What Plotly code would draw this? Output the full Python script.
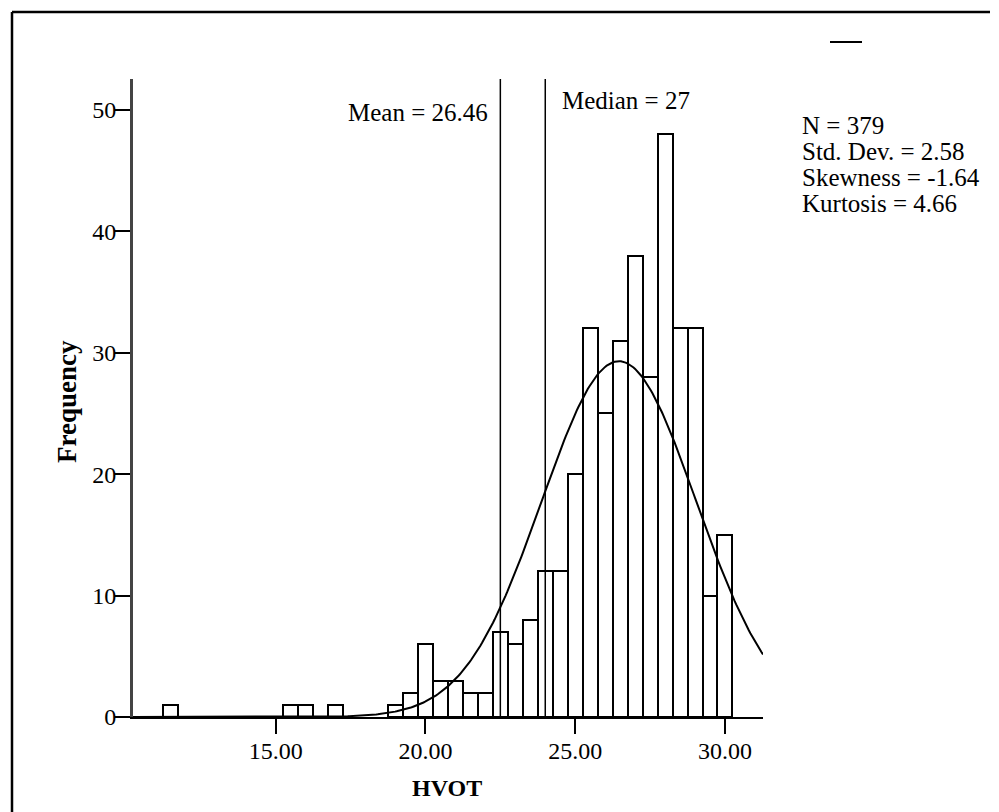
import plotly.graph_objects as go
import numpy as np

# ---- data ----
bin_centers = [11.5, 15.5, 16.0, 17.0,
               19.0, 19.5, 20.0, 20.5, 21.0, 21.5, 22.0, 22.5, 23.0, 23.5,
               24.0, 24.5, 25.0, 25.5, 26.0, 26.5, 27.0, 27.5, 28.0, 28.5,
               29.0, 29.5, 30.0]
frequencies = [1, 1, 1, 1,
               1, 2, 6, 3, 3, 2, 2, 7, 6, 8,
               12, 12, 20, 32, 25, 31, 38, 28, 48, 32,
               32, 10, 15]
bin_width = 0.5
n_total = 379
mean_val = 26.46
sd_val = 2.58
mean_line_x = 22.5
median_line_x = 24.0
x_ticks = [15, 20, 25, 30]
y_ticks = [0, 10, 20, 30, 40, 50]
stats_lines = ["N = 379", "Std. Dev. = 2.58", "Skewness = -1.64", "Kurtosis = 4.66"]

X_RANGE = [10.235, 31.27]
Y_RANGE = [0, 52.55]

W, H = 999, 812
L, R, T, B = 133, 236, 79, 95
PW, PH = W - L - R, H - T - B


def px(x):
    return (x - L) / PW


def py(y):
    return (H - B - y) / PH


FONT = "Liberation Serif, Times New Roman, serif"
FS = 23
FS_TXT = 25

fig = go.Figure()

fig.add_trace(go.Bar(
    x=bin_centers, y=frequencies, width=bin_width,
    marker=dict(color="white", line=dict(color="black", width=2)),
    showlegend=False, hoverinfo="x+y",
))

# fitted normal curve (SPSS-style, from mean / SD / N)
xs = np.linspace(X_RANGE[0], X_RANGE[1], 400)
ys = n_total * bin_width / (sd_val * np.sqrt(2 * np.pi)) * np.exp(-0.5 * ((xs - mean_val) / sd_val) ** 2)
fig.add_trace(go.Scatter(x=xs, y=ys, mode="lines", line=dict(color="black", width=2),
                         showlegend=False, hoverinfo="skip"))

# reference lines
for lx in (mean_line_x, median_line_x):
    fig.add_shape(type="line", xref="x", yref="y", x0=lx, x1=lx, y0=0, y1=Y_RANGE[1],
                  line=dict(color="black", width=1.5))

annotations = [
    dict(text="Mean = 26.46", x=px(490), y=py(112), xanchor="right", yanchor="middle",
         size=FS_TXT),
    dict(text="Median = 27", x=px(560), y=py(100), xanchor="left", yanchor="middle",
         size=FS_TXT),
    dict(text="<b>HVOT</b>", x=px(447), y=py(788), xanchor="center", yanchor="middle",
         size=24),
    dict(text="<b>Frequency</b>", x=px(67), y=py(402), xanchor="center", yanchor="middle",
         textangle=-90, size=27),
]
for i, s in enumerate(stats_lines):
    annotations.append(dict(text=s, x=px(800), y=py(125 + 26 * i), xanchor="left",
                            yanchor="middle", size=FS_TXT))
for a in annotations:
    sz = a.pop("size")
    a.update(xref="paper", yref="paper", showarrow=False,
             font=dict(family=FONT, size=sz, color="black"))

# legend dash at top right
fig.add_shape(type="line", xref="paper", yref="paper", x0=px(830), x1=px(862),
              y0=py(42), y1=py(42), line=dict(color="black", width=2))
# outer frame (left & top)
fig.add_shape(type="line", xref="paper", yref="paper", x0=px(12), x1=px(12),
              y0=py(12), y1=py(815), line=dict(color="black", width=2.5))
fig.add_shape(type="line", xref="paper", yref="paper", x0=px(12), x1=px(990),
              y0=py(12), y1=py(12), line=dict(color="black", width=2.5))

fig.update_layout(
    width=W, height=H,
    margin=dict(l=L, r=R, t=T, b=B),
    paper_bgcolor="white", plot_bgcolor="white",
    bargap=0,
    annotations=annotations,
    font=dict(family=FONT, size=FS, color="black"),
    xaxis=dict(range=X_RANGE, tickvals=x_ticks, tickformat=".2f", ticks="outside",
               ticklen=15, tickwidth=2, tickcolor="black", showline=True, linecolor="black",
               linewidth=2, showgrid=False, zeroline=False, ticklabelstandoff=-4,
               tickfont=dict(family=FONT, size=24, color="black")),
    yaxis=dict(range=Y_RANGE, tickvals=y_ticks, ticks="outside", ticklen=16, tickwidth=2,
               tickcolor="black", showline=True, linecolor="#444", linewidth=3,
               showgrid=False, zeroline=False, ticklabelstandoff=-7,
               tickfont=dict(family=FONT, size=24, color="black")),
)

fig.write_html("out.html")
